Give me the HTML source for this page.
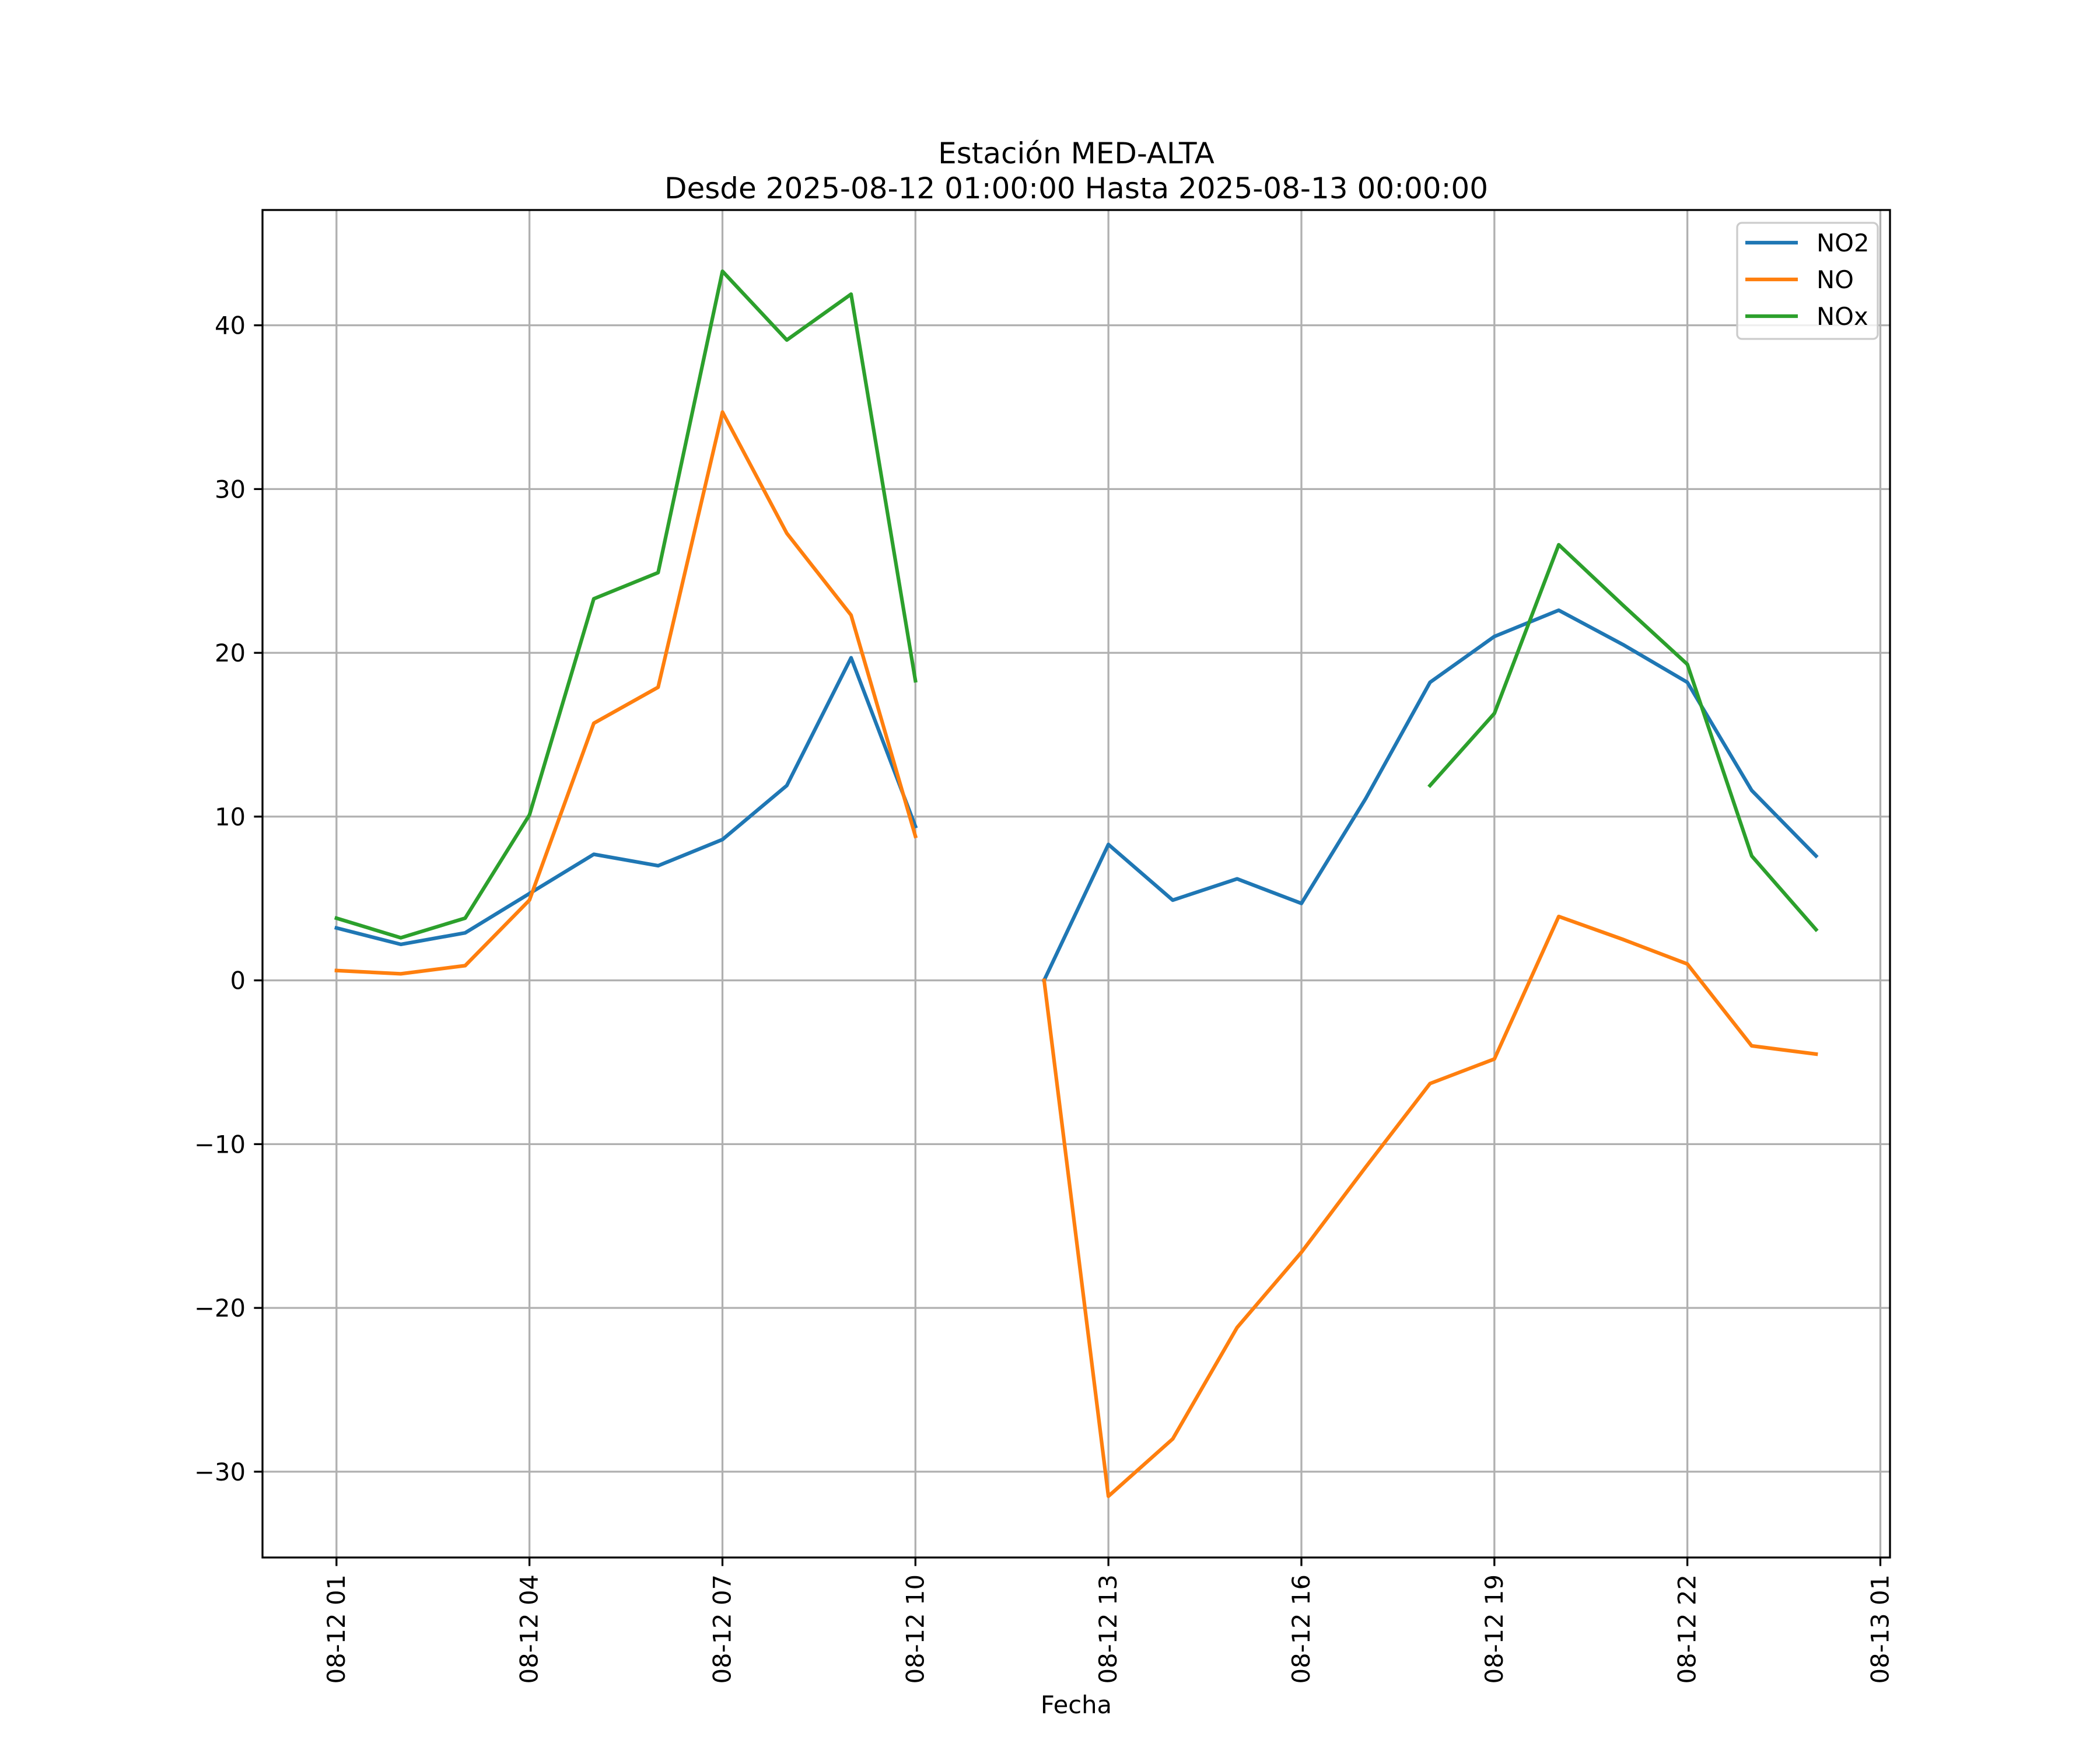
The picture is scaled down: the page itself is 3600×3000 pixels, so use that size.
<!DOCTYPE html>
<html><head><meta charset="utf-8"><style>
html,body{margin:0;padding:0;background:#fff}
svg{display:block;font-family:"DejaVu Sans","Liberation Sans",sans-serif}
</style></head><body>
<svg id="chart" width="3600" height="3000" viewBox="0 0 3600 3000" xmlns="http://www.w3.org/2000/svg">
<rect width="3600" height="3000" fill="#fff"/>
<g id="grid"></g><g id="series"></g><g id="axes"></g>
</svg>
<script>
const hours=[0,1,2,3,4,5,6,7,8,9,10,11,12,13,14,15,16,17,18,19,20,21,22,23];
const no2=[3.2,2.2,2.9,5.3,7.7,7.0,8.6,11.9,19.7,9.4,null,0.0,8.3,4.9,6.2,4.7,11.1,18.2,21.0,22.6,20.5,18.2,11.6,7.6];
const no=[0.6,0.4,0.9,4.9,15.7,17.9,34.7,27.3,22.3,8.8,null,0.0,-31.5,-28.0,-21.2,-16.6,-11.4,-6.3,-4.8,3.9,2.5,1.0,-4.0,-4.5];
const nox=[3.8,2.6,3.8,10.1,23.3,24.9,43.3,39.1,41.9,18.3,null,null,null,null,null,null,null,11.9,16.3,26.6,22.9,19.3,7.6,3.1];
const xTicks=[0,3,6,9,12,15,18,21,24];
const xTickLabels=["08-12 01","08-12 04","08-12 07","08-12 10","08-12 13","08-12 16","08-12 19","08-12 22","08-13 01"];
const yTicks=[-30,-20,-10,0,10,20,30,40];
const seriesNames=["NO2","NO","NOx"];
const colors=["#1f77b4","#ff7f0e","#2ca02c"];

const L=450,R=3240,T=360,B=2670;
const xmin=-1.15,xmax=24.15,ymin=-35.24,ymax=47.04;
const X=v=>L+(v-xmin)/(xmax-xmin)*(R-L);
const Y=v=>B-(v-ymin)/(ymax-ymin)*(B-T);
const NS="http://www.w3.org/2000/svg";
function mk(tag,attrs,parent,text){const e=document.createElementNS(NS,tag);for(const k in attrs)e.setAttribute(k,attrs[k]);if(text!==undefined)e.textContent=text;parent.appendChild(e);return e;}
const grid=document.getElementById('grid'),ser=document.getElementById('series'),ax=document.getElementById('axes');

xTicks.forEach((t,i)=>{
  const g=mk('line',{x1:X(t),x2:X(t),y1:T,y2:B,stroke:'#b0b0b0','stroke-width':3.3},grid);
  
  
  mk('line',{x1:X(t),x2:X(t),y1:B,y2:B+14.6,stroke:'#000','stroke-width':3.3},ax);
  const tx=mk('text',{x:0,y:0,transform:`translate(${X(t)+14},${B+29}) rotate(-90)`,'text-anchor':'end','font-size':41.7,fill:'#000'},ax,xTickLabels[i]);
  
  
});
yTicks.forEach(t=>{
  const g=mk('line',{x1:L,x2:R,y1:Y(t),y2:Y(t),stroke:'#b0b0b0','stroke-width':3.3},grid);
  
  
  mk('line',{x1:L-14.6,x2:L,y1:Y(t),y2:Y(t),stroke:'#000','stroke-width':3.3},ax);
  const tx=mk('text',{x:L-29,y:Y(t)+15,'text-anchor':'end','font-size':41.7,fill:'#000'},ax,(t<0?'\u2212':'')+Math.abs(t));
  
  
});

[no2,no,nox].forEach((arr,si)=>{
  let d='',pen=false;
  arr.forEach((v,i)=>{
    if(v===null){pen=false;return;}
    d+=(pen?'L':'M')+X(hours[i]).toFixed(1)+','+Y(v).toFixed(1)+' ';pen=true;
  });
  const p=mk('path',{d:d,fill:'none',stroke:colors[si],'stroke-width':6.25,'stroke-linejoin':'round','stroke-linecap':'square'},ser);
  
  
});

const frame=mk('rect',{x:L,y:T,width:R-L,height:B-T,fill:'none',stroke:'#000','stroke-width':3.3},ax);



const t1=mk('text',{x:(L+R)/2,y:280,'text-anchor':'middle','font-size':50,fill:'#000'},ax,'Estación MED-ALTA');


const t2=mk('text',{x:(L+R)/2,y:340,'text-anchor':'middle','font-size':50,fill:'#000'},ax,'Desde 2025-08-12 01:00:00 Hasta 2025-08-13 00:00:00');


const xl=mk('text',{x:(L+R)/2,y:2937,'text-anchor':'middle','font-size':41.7,fill:'#000'},ax,'Fecha');



const lg=mk('g',{},ax);


mk('rect',{x:2978,y:382,width:241,height:199,rx:8,fill:'#fff','fill-opacity':0.8,stroke:'#cccccc','stroke-width':3.3},lg);
seriesNames.forEach((n,i)=>{
  const y=416+i*63;
  const e=mk('g',{},lg);
  
  
  mk('line',{x1:2992,x2:3082,y1:y,y2:y,stroke:colors[i],'stroke-width':6.25},e);
  mk('text',{x:3114,y:y+15,'font-size':41.7,fill:'#000'},e,n);
});
</script>
</body></html>
